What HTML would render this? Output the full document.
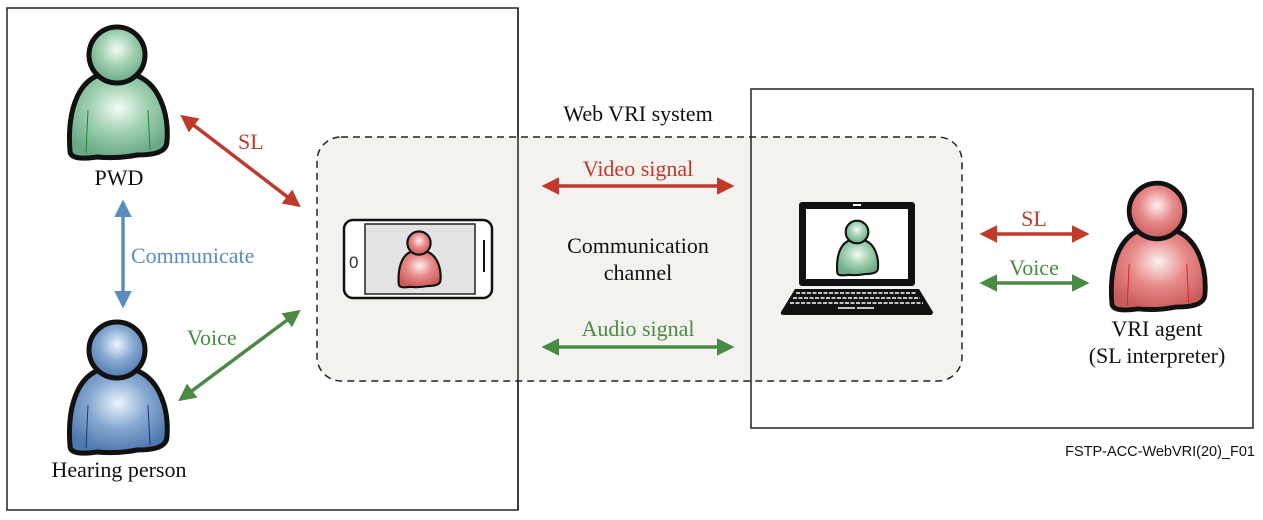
<!DOCTYPE html>
<html><head><meta charset="utf-8"><style>
html,body{margin:0;padding:0;background:#fff;width:1263px;height:520px;overflow:hidden}
text{font-family:"Liberation Serif",serif}
text.sans{font-family:"Liberation Sans",sans-serif}
</style></head><body>
<svg width="1263" height="520" viewBox="0 0 1263 520" xmlns="http://www.w3.org/2000/svg">
<defs>
<radialGradient id="gG" cx="0.5" cy="0.4" r="0.6"><stop offset="0" stop-color="#f4fbf6"/><stop offset="0.5" stop-color="#9fd0b0"/><stop offset="1" stop-color="#6aa886"/></radialGradient>
<radialGradient id="gB" cx="0.5" cy="0.4" r="0.6"><stop offset="0" stop-color="#eef4fb"/><stop offset="0.5" stop-color="#86a9d2"/><stop offset="1" stop-color="#4f78ad"/></radialGradient>
<radialGradient id="gR" cx="0.5" cy="0.4" r="0.6"><stop offset="0" stop-color="#fdf0f0"/><stop offset="0.5" stop-color="#e88a8a"/><stop offset="1" stop-color="#c95b5b"/></radialGradient>
<g id="body"><path d="M-47,96 C-50,58 -40,28 -18,20 Q0,28 18,20 C42,28 52,58 50,86 C50,96 40,100 20,100 Q0,104 -20,102 Q-47,106 -47,96 Z" stroke="#111" stroke-width="5" stroke-linejoin="round"/></g>
<marker id="aR" viewBox="0 0 10 10" refX="8" refY="5" markerWidth="5" markerHeight="5" orient="auto-start-reverse"><path d="M0,0 L10,5 L0,10 Z" fill="#c0392b"/></marker>
<marker id="aG" viewBox="0 0 10 10" refX="8" refY="5" markerWidth="5" markerHeight="5" orient="auto-start-reverse"><path d="M0,0 L10,5 L0,10 Z" fill="#4a8a45"/></marker>
<marker id="aB" viewBox="0 0 10 10" refX="8" refY="5" markerWidth="5" markerHeight="5" orient="auto-start-reverse"><path d="M0,0 L10,5 L0,10 Z" fill="#5a8dbd"/></marker>
</defs>

<rect x="7" y="8" width="511" height="502" fill="none" stroke="#222" stroke-width="1.5"/>
<rect x="317" y="137" width="645" height="244" rx="24" fill="#f3f2ef" stroke="#222" stroke-width="1.5" stroke-dasharray="7,5"/>
<line x1="518" y1="8" x2="518" y2="510" stroke="#222" stroke-width="1.5"/>
<rect x="751" y="89" width="502" height="339" fill="none" stroke="#222" stroke-width="1.5"/>

<!-- PWD -->
<g transform="translate(117,55)"><use href="#body" fill="url(#gG)"/><path d="M-29,55 L-31,98 M31,55 L33,95" stroke="#1a8a3a" stroke-width="1" fill="none"/><circle r="28" fill="url(#gG)" stroke="#111" stroke-width="5"/></g>
<!-- Hearing -->
<g transform="translate(117,350)"><use href="#body" fill="url(#gB)"/><path d="M-29,55 L-31,98 M31,55 L33,95" stroke="#223377" stroke-width="1" fill="none"/><circle r="28" fill="url(#gB)" stroke="#111" stroke-width="5"/></g>
<!-- Agent -->
<g transform="translate(1157,211) scale(0.96)"><use href="#body" fill="url(#gR)"/><path d="M-29,55 L-31,98 M31,55 L33,95" stroke="#d22" stroke-width="1" fill="none"/><circle r="29" fill="url(#gR)" stroke="#111" stroke-width="5"/></g>

<!-- phone -->
<rect x="344" y="220" width="148" height="78" rx="9" fill="#fff" stroke="#111" stroke-width="2.5"/>
<rect x="365" y="224" width="110" height="70" fill="#e3e3e3" stroke="#222" stroke-width="1.5"/>
<text class="sans" x="349" y="268" font-size="17" fill="#333">0</text>
<line x1="484" y1="240" x2="484" y2="272" stroke="#111" stroke-width="2"/>
<g transform="translate(419,243) scale(0.43)"><use href="#body" fill="url(#gR)"/><circle r="27" fill="url(#gR)" stroke="#111" stroke-width="5"/></g>

<!-- laptop -->
<rect x="799" y="202" width="116" height="84" rx="3" fill="#111"/>
<rect x="806" y="209" width="102" height="70" fill="#fff"/>
<rect x="853" y="204" width="8" height="2" fill="#fff"/>
<path d="M795,289 L919,289 L933,312 Q933,315 930,315 L784,315 Q780,315 781,312 Z" fill="#111"/>
<g stroke="#fff" stroke-width="1.6">
<line x1="796" y1="293" x2="917" y2="293" stroke-dasharray="4,1.5"/>
<line x1="793" y1="298" x2="920" y2="298" stroke-dasharray="4,1.5"/>
<line x1="790" y1="303" x2="923" y2="303" stroke-dasharray="4,1.5"/>
<line x1="838" y1="308" x2="876" y2="308" stroke-dasharray="17,2"/>
</g>
<g transform="translate(857,232) scale(0.42)"><use href="#body" fill="url(#gG)"/><circle r="27" fill="url(#gG)" stroke="#111" stroke-width="5"/></g>

<!-- arrows -->
<line x1="183" y1="117" x2="298" y2="205" stroke="#c0392b" stroke-width="3.5" marker-start="url(#aR)" marker-end="url(#aR)"/>
<line x1="123" y1="203" x2="123" y2="305" stroke="#5a8dbd" stroke-width="3.5" marker-start="url(#aB)" marker-end="url(#aB)"/>
<line x1="181" y1="399" x2="298" y2="312" stroke="#4a8a45" stroke-width="3.5" marker-start="url(#aG)" marker-end="url(#aG)"/>
<line x1="545" y1="186" x2="731" y2="186" stroke="#c0392b" stroke-width="3.5" marker-start="url(#aR)" marker-end="url(#aR)"/>
<line x1="545" y1="347" x2="731" y2="347" stroke="#4a8a45" stroke-width="3.5" marker-start="url(#aG)" marker-end="url(#aG)"/>
<line x1="983" y1="234" x2="1086" y2="234" stroke="#c0392b" stroke-width="3.5" marker-start="url(#aR)" marker-end="url(#aR)"/>
<line x1="983" y1="283" x2="1086" y2="283" stroke="#4a8a45" stroke-width="3.5" marker-start="url(#aG)" marker-end="url(#aG)"/>

<!-- labels -->
<g font-size="22">
<text x="119" y="185" text-anchor="middle" fill="#111">PWD</text>
<text x="119" y="477" text-anchor="middle" fill="#111">Hearing person</text>
<text x="238" y="149" fill="#c0392b">SL</text>
<text x="131" y="263" fill="#5a8dbd">Communicate</text>
<text x="187" y="345" fill="#4a8a45">Voice</text>
<text x="638" y="121" text-anchor="middle" fill="#111">Web VRI system</text>
<text x="638" y="176" text-anchor="middle" fill="#c0392b">Video signal</text>
<text x="638" y="253" text-anchor="middle" fill="#111">Communication</text>
<text x="638" y="280" text-anchor="middle" fill="#111">channel</text>
<text x="638" y="336" text-anchor="middle" fill="#4a8a45">Audio signal</text>
<text x="1034" y="226" text-anchor="middle" fill="#c0392b">SL</text>
<text x="1034" y="275" text-anchor="middle" fill="#4a8a45">Voice</text>
<text x="1157" y="336" text-anchor="middle" fill="#111">VRI agent</text>
<text x="1157" y="363" text-anchor="middle" fill="#111">(SL interpreter)</text>
</g>
<text class="sans" x="1255" y="456" text-anchor="end" font-size="14.5" fill="#111">FSTP-ACC-WebVRI(20)_F01</text>
</svg>
</body></html>
